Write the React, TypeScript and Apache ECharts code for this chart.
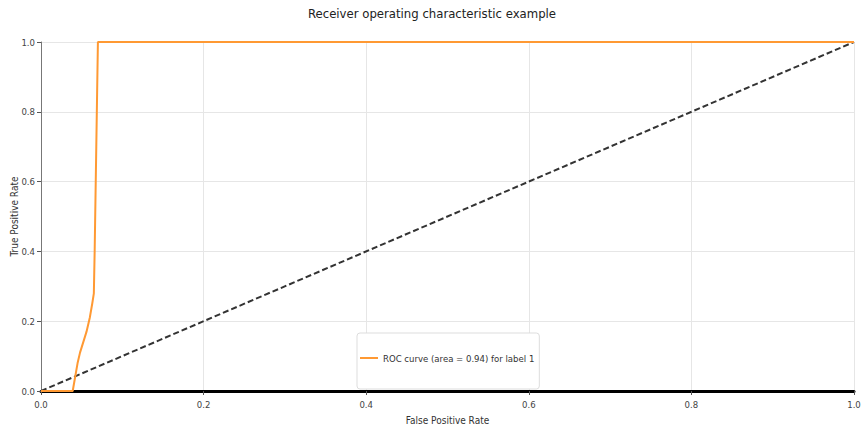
import React, { useEffect, useRef } from "react";
import * as echarts from "echarts";

const rocFpr = [0, 0.039, 0.042, 0.045, 0.048, 0.052, 0.056, 0.06, 0.063, 0.065, 0.066, 0.067, 0.068, 0.069, 0.07, 1.0];
const rocTpr = [0, 0, 0.04, 0.08, 0.11, 0.14, 0.17, 0.21, 0.25, 0.28, 0.4, 0.55, 0.7, 0.85, 1.0, 1.0];
const diagX = [0, 1];
const diagY = [0, 1];
const rocName = "ROC curve (area = 0.94) for label 1";
const titleText = "Receiver operating characteristic example";

const FONT = "'DejaVu Sans Condensed', 'DejaVu Sans', sans-serif";

export default function App() {
  const ref = useRef<HTMLDivElement>(null);
  useEffect(() => {
    document.body.style.margin = "0";
    const chart = echarts.init(ref.current!, null, { renderer: "svg" });
    const fmt = (v: number) => v.toFixed(1);
    chart.setOption({
      animation: false,
      backgroundColor: "#ffffff",
      textStyle: { fontFamily: FONT },
      title: {
        text: titleText,
        left: "center",
        top: 2,
        textStyle: { fontFamily: FONT, fontSize: 13, fontWeight: "normal", color: "#222" },
      },
      legend: {
        data: [rocName],
        left: 357,
        top: 333,
        padding: [20, 5, 26, 3],
        backgroundColor: "#fff",
        borderColor: "#ddd",
        borderWidth: 1,
        borderRadius: 3,
        icon: "rect",
        itemWidth: 18,
        itemHeight: 2,
        textStyle: { fontFamily: FONT, fontSize: 9.5, color: "#333" },
      },
      grid: { left: 41, right: 10, top: 42, bottom: 38, containLabel: false, outerBoundsMode: "none" },
      xAxis: {
        type: "value",
        min: 0,
        max: 1,
        interval: 0.2,
        name: "False Positive Rate",
        nameLocation: "middle",
        nameGap: 24,
        nameMoveOverlap: false,
        nameTextStyle: { fontFamily: FONT, fontSize: 10, color: "#333" },
        axisLine: { show: true, lineStyle: { color: "#000", width: 3 } },
        axisTick: { show: true, length: 4, lineStyle: { color: "#555" } },
        axisLabel: { formatter: fmt, fontFamily: FONT, fontSize: 9.5, color: "#444", margin: 8 },
        splitLine: { show: true, lineStyle: { color: "#e6e6e6", width: 1 } },
      },
      yAxis: {
        type: "value",
        min: 0,
        max: 1,
        interval: 0.2,
        name: "True Positive Rate",
        nameLocation: "middle",
        nameGap: 22,
        nameMoveOverlap: false,
        nameTextStyle: { fontFamily: FONT, fontSize: 10, color: "#333" },
        axisLine: { show: true, lineStyle: { color: "#777", width: 1 } },
        axisTick: { show: true, length: 4, lineStyle: { color: "#555" } },
        axisLabel: { formatter: fmt, fontFamily: FONT, fontSize: 9.5, color: "#444", margin: 6 },
        splitLine: { show: true, lineStyle: { color: "#e6e6e6", width: 1 } },
      },
      series: [
        {
          name: rocName,
          type: "line",
          data: rocFpr.map((x, i) => [x, rocTpr[i]]),
          showSymbol: false,
          symbol: "none",
          lineStyle: { color: "#ff9933", width: 2 },
          itemStyle: { color: "#ff9933" },
          z: 3,
        },
        {
          name: "diag",
          type: "line",
          data: diagX.map((x, i) => [x, diagY[i]]),
          showSymbol: false,
          symbol: "none",
          lineStyle: { color: "#333", width: 2, type: [6, 3] },
          itemStyle: { color: "#333" },
          z: 2,
        },
      ],
    });
    return () => chart.dispose();
  }, []);
  return <div ref={ref} style={{ position: "absolute", left: 0, top: 0, width: 864, height: 429 }} />;
}
